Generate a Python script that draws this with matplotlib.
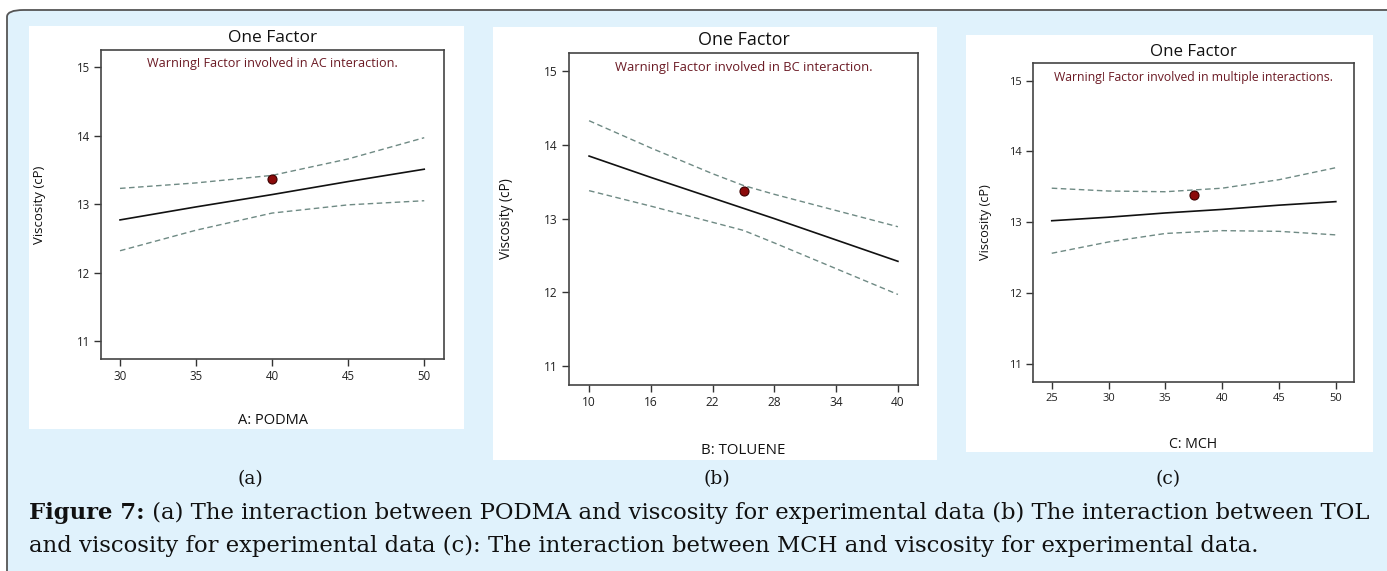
import matplotlib
matplotlib.use("Agg")
import matplotlib.pyplot as plt
from matplotlib.patches import FancyBboxPatch, Rectangle

# ---------------- data ----------------
a_x = [30, 35, 40, 45, 50]
a_fit = [12.77, 12.96, 13.14, 13.33, 13.51]
a_upper = [13.23, 13.31, 13.42, 13.66, 13.97]
a_lower = [12.32, 12.62, 12.87, 12.99, 13.05]
a_point = (40, 13.36)
a_xticks = [30, 35, 40, 45, 50]

b_x = [10, 16, 22, 25, 28, 34, 40]
b_fit = [13.85, 13.56, 13.28, 13.14, 13.00, 12.71, 12.42]
b_upper = [14.33, 13.96, 13.61, 13.45, 13.33, 13.11, 12.89]
b_lower = [13.38, 13.17, 12.95, 12.84, 12.67, 12.32, 11.97]
b_point = (25, 13.37)
b_xticks = [10, 16, 22, 28, 34, 40]

c_x = [25, 30, 35, 40, 45, 50]
c_fit = [13.02, 13.07, 13.13, 13.18, 13.24, 13.29]
c_upper = [13.48, 13.44, 13.43, 13.48, 13.60, 13.77]
c_lower = [12.56, 12.72, 12.84, 12.88, 12.87, 12.82]
c_point = (37.5, 13.38)
c_xticks = [25, 30, 35, 40, 45, 50]

yticks = [11, 12, 13, 14, 15]
titles = ["One Factor", "One Factor", "One Factor"]
warnings = ["Warning! Factor involved in AC interaction.",
            "Warning! Factor involved in BC interaction.",
            "Warning! Factor involved in multiple interactions."]
xlabels = ["A: PODMA", "B: TOLUENE", "C: MCH"]
ylabel = "Viscosity (cP)"
sub_labels = ["(a)", "(b)", "(c)"]
cap_bold = "Figure 7:"
cap_line1 = " (a) The interaction between PODMA and viscosity for experimental data (b) The interaction between TOL"
cap_line2 = "and viscosity for experimental data (c): The interaction between MCH and viscosity for experimental data."

# ---------------- layout ----------------
W, H = 1387, 571
fig = plt.figure(figsize=(W / 100, H / 100), dpi=100)
fig.patch.set_facecolor("white")

def fx(x):
    return x / W

def fy(y):
    return 1 - y / H

SANS = ["Open Sans", "DejaVu Sans"]
SERIF = ["DejaVu Serif"]

# outer light-blue box
box = FancyBboxPatch((fx(7), fy(620)), fx(1420) - fx(7), fy(10) - fy(620),
                     boxstyle="round,pad=0,rounding_size=0.012",
                     transform=fig.transFigure, facecolor="#e0f2fc",
                     edgecolor="#555555", linewidth=1.3, zorder=0)
fig.patches.append(box)

panels = [
    dict(white=(29, 26, 464, 429), ax=(101, 50, 444, 359), xlim=(28.75, 51.3),
         x=a_x, fit=a_fit, up=a_upper, lo=a_lower, pt=a_point, xt=a_xticks,
         title_y=38, warn_y=63, ylab_x=40, xlab_y=420, sub_x=250, s=1.0),
    dict(white=(493, 27, 937, 460), ax=(569, 53, 918, 385), xlim=(8.05, 41.95),
         x=b_x, fit=b_fit, up=b_upper, lo=b_lower, pt=b_point, xt=b_xticks,
         title_y=40, warn_y=68, ylab_x=506, xlab_y=450, sub_x=717, s=1.03),
    dict(white=(966, 35, 1373, 452), ax=(1033, 63, 1354, 382), xlim=(23.35, 51.6),
         x=c_x, fit=c_fit, up=c_upper, lo=c_lower, pt=c_point, xt=c_xticks,
         title_y=52, warn_y=78, ylab_x=985, xlab_y=444, sub_x=1168, s=0.97),
]

for i, p in enumerate(panels):
    s = p["s"]
    x0, y0, x1, y1 = p["white"]
    fig.patches.append(Rectangle((fx(x0), fy(y1)), fx(x1) - fx(x0), fy(y0) - fy(y1),
                                 transform=fig.transFigure, facecolor="white",
                                 edgecolor="none", zorder=1))
    ax0, ay0, ax1, ay1 = p["ax"]
    ax = fig.add_axes([fx(ax0), fy(ay1), fx(ax1) - fx(ax0), fy(ay0) - fy(ay1)])
    ax.set_zorder(2)
    ax.set_facecolor("white")
    ax.plot(p["x"], p["up"], color="#6f8a84", lw=1.0, ls=(0, (4, 2.5)))
    ax.plot(p["x"], p["lo"], color="#6f8a84", lw=1.0, ls=(0, (4, 2.5)))
    ax.plot(p["x"], p["fit"], color="#111111", lw=1.2)
    ax.plot([p["pt"][0]], [p["pt"][1]], "o", ms=6.5, color="#8b0a0a",
            mec="#3a0000", mew=0.8)
    ax.set_xlim(*p["xlim"])
    ax.set_ylim(10.74, 15.25)
    ax.set_xticks(p["xt"])
    ax.set_yticks(yticks)
    ax.set_xticklabels([str(t) for t in p["xt"]], fontfamily=SANS, fontsize=8.3 * s)
    ax.set_yticklabels([str(t) for t in yticks], fontfamily=SANS, fontsize=8.3 * s)
    ax.tick_params(direction="out", length=5, width=1.0, color="#333333",
                   labelcolor="#222222", pad=3)
    for sp in ax.spines.values():
        sp.set_color("#444444")
        sp.set_linewidth(1.2)
    cx = (ax0 + ax1) / 2
    fig.text(fx(cx), fy(p["title_y"]), titles[i], ha="center", va="center",
             fontfamily=SANS, fontsize=12.5 * s, color="#111111")
    fig.text(fx(cx), fy(p["warn_y"]), warnings[i], ha="center", va="center",
             fontfamily=SANS, fontsize=9.1 * s, color="#6b1a24", zorder=5)
    fig.text(fx(p["ylab_x"]), fy((ay0 + ay1) / 2), ylabel, ha="center", va="center",
             rotation=90, fontfamily=SANS, fontsize=9.5 * s, color="#111111")
    fig.text(fx(cx), fy(p["xlab_y"]), xlabels[i], ha="center", va="center",
             fontfamily=SANS, fontsize=10.5 * s, color="#111111")
    fig.text(fx(p["sub_x"]), fy(479), sub_labels[i], ha="center", va="center",
             fontfamily=SERIF, fontsize=13.5, color="#111111")

# caption, fitted to the reference width
renderer = fig.canvas.get_renderer()
fs = 13.0
for _ in range(3):
    tb = fig.text(fx(29), fy(519), cap_bold, ha="left", va="baseline",
                  fontfamily=SERIF, fontweight="bold", fontsize=fs)
    tr = fig.text(0, fy(519), cap_line1, ha="left", va="baseline",
                  fontfamily=SERIF, fontsize=fs)
    wb = tb.get_window_extent(renderer).width
    wr = tr.get_window_extent(renderer).width
    total = wb + wr
    tb.remove()
    tr.remove()
    fs = fs * 1341 / total

tb = fig.text(fx(29), fy(519), cap_bold, ha="left", va="baseline",
              fontfamily=SERIF, fontweight="bold", fontsize=fs, color="#111111")
wb = tb.get_window_extent(renderer).width
fig.text(fx(29 + wb), fy(519), cap_line1, ha="left", va="baseline",
         fontfamily=SERIF, fontsize=fs, color="#111111")
fig.text(fx(29), fy(552), cap_line2, ha="left", va="baseline",
         fontfamily=SERIF, fontsize=fs, color="#111111")

fig.savefig("out.png", dpi=100)
